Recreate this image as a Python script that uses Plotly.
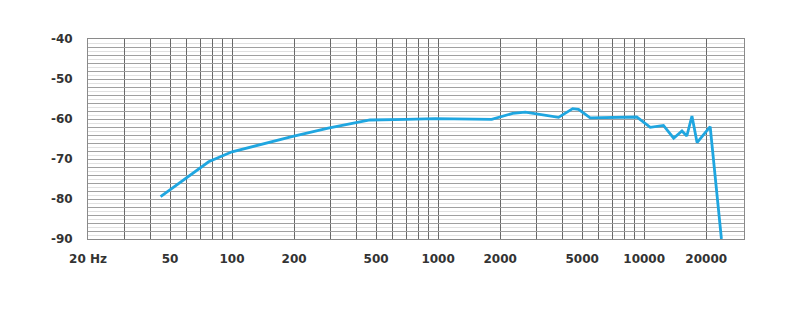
import math
import plotly.graph_objects as go

# Frequency response data
freq_hz = [45, 77, 100, 137, 195, 293, 467, 700, 966, 1820, 2300, 2650, 3840, 4500, 4800, 5470,
           9200, 10700, 12400, 13900, 15250, 16100, 17050, 18050, 20900, 23700]
level_db = [-79.4, -70.7, -68.2, -66.4, -64.4, -62.3, -60.25, -60.1, -59.9, -60.1, -58.6, -58.3,
            -59.6, -57.4, -57.6, -59.7, -59.5, -62.1, -61.6, -64.8, -63.0, -64.25, -59.25, -65.9,
            -61.9, -90.0]

# Axis grid / labels
x_grid_vals = [20, 30, 40, 50, 60, 70, 80, 90,
               100, 200, 300, 400, 500, 600, 700, 800, 900,
               1000, 2000, 3000, 4000, 5000, 6000, 7000, 8000, 9000,
               10000, 20000]
x_labels = {20: "20 Hz", 50: "50", 100: "100", 200: "200", 500: "500", 1000: "1000",
            2000: "2000", 5000: "5000", 10000: "10000", 20000: "20000"}
y_grid_vals = list(range(-90, -39, 2))
y_labels = {-90: "-90", -80: "-80", -70: "-70", -60: "-60", -50: "-50", -40: "-40"}

font = dict(family="DejaVu Sans", size=12, color="#333333", weight="bold")

fig = go.Figure()
fig.add_trace(go.Scatter(x=freq_hz, y=level_db, mode="lines",
                         line=dict(color="#1fa6e0", width=2.8),
                         hoverinfo="skip", showlegend=False))

fig.update_layout(
    width=800, height=315,
    margin=dict(l=88, r=56, t=39, b=76),
    paper_bgcolor="white", plot_bgcolor="white",
    xaxis=dict(type="log", range=[math.log10(20), math.log10(30500)],
               tickmode="array", tickvals=x_grid_vals,
               ticktext=[x_labels.get(v, "") for v in x_grid_vals],
               showgrid=True, gridcolor="#686868", gridwidth=1.4,
               showline=True, mirror=True, linecolor="#8a8a8a", linewidth=1,
               ticks="", ticklabelstandoff=9, tickfont=font, zeroline=False),
    yaxis=dict(range=[-90, -40], tickmode="array", tickvals=y_grid_vals,
               ticktext=[y_labels.get(v, "") for v in y_grid_vals],
               showgrid=True, gridcolor="#a0a0a0", gridwidth=1,
               minor=dict(dtick=1, tick0=-90, showgrid=True, gridcolor="#e0e0e0", gridwidth=1),
               showline=True, mirror=True, linecolor="#8a8a8a", linewidth=1,
               ticks="", ticklabelstandoff=12, tickfont=font, zeroline=False),
)

fig.write_html("out.html")
